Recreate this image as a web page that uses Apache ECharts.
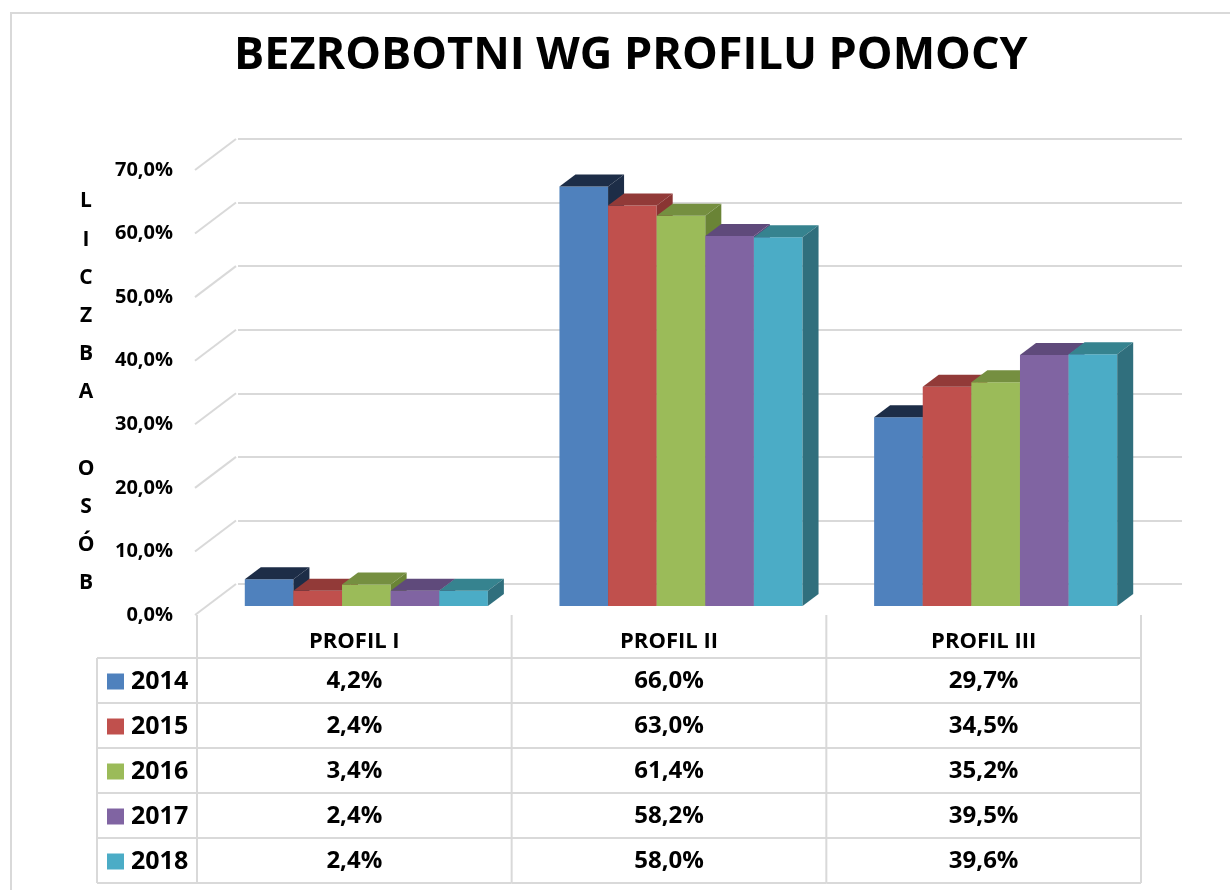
<!DOCTYPE html>
<html>
<head>
<meta charset="utf-8">
<script src="https://cdn.jsdelivr.net/npm/echarts@6/dist/echarts.min.js"></script>
<style>
  html, body { margin: 0; padding: 0; background: #fff; }
  #chart { width: 1230px; height: 890px; }
</style>
</head>
<body>
<div id="chart"></div>
<script>
// dane
const categories = ['PROFIL I', 'PROFIL II', 'PROFIL III'];
const years = ['2014', '2015', '2016', '2017', '2018'];
const values2014 = [4.2, 66.0, 29.7];
const values2015 = [2.4, 63.0, 34.5];
const values2016 = [3.4, 61.4, 35.2];
const values2017 = [2.4, 58.2, 39.5];
const values2018 = [2.4, 58.0, 39.6];
const yearValues = [values2014, values2015, values2016, values2017, values2018];
const yTicks = [0, 10, 20, 30, 40, 50, 60, 70];

// kolory: przod, gora, bok
const frontColors = ['#4F81BD', '#C0504D', '#9BBB59', '#8064A2', '#4BACC6'];
const topColors = ['#1D2D47', '#923A38', '#758F40', '#5F4A7B', '#36838F'];
const sideColors = ['#1D2D47', '#8A3533', '#6A8436', '#594577', '#306F7D'];

const FONT = 'Open Sans';
const LINE = '#D9D9D9';
const DEPTH_X = 41, DEPTH_Y = -31;   // sciana tylna
const BAR_OFF_X = 12, BAR_OFF_Y = -9; // przod slupkow
const BAR_DX = 16, BAR_DY = -12;      // glebokosc slupka

const fmt = v => v.toFixed(1).replace('.', ',') + '%';

function renderBar(s, params, api) {
  const i = api.value(0);
  const v = api.value(1);
  const base = api.coord([i, 0]);
  const tip = api.coord([i, v]);
  const catW = api.size([1, 0])[0];
  const bw = catW * 0.1545;
  const x0 = base[0] - 2.5 * bw + s * bw + BAR_OFF_X;
  const yb = base[1] + BAR_OFF_Y;
  const yt = tip[1] + BAR_OFF_Y;
  return {
    type: 'group',
    children: [
      { type: 'rect', shape: { x: x0, y: yt, width: bw, height: yb - yt },
        style: { fill: frontColors[s] } },
      { type: 'polygon', shape: { points: [[x0, yt], [x0 + bw, yt], [x0 + bw + BAR_DX, yt + BAR_DY], [x0 + BAR_DX, yt + BAR_DY]] },
        style: { fill: topColors[s] } },
      { type: 'polygon', shape: { points: [[x0 + bw, yt], [x0 + bw + BAR_DX, yt + BAR_DY], [x0 + bw + BAR_DX, yb + BAR_DY], [x0 + bw, yb]] },
        style: { fill: sideColors[s] } }
    ]
  };
}

function renderStub(params, api) {
  const p = api.coord([0, api.value(1)]);
  const x = params.coordSys.x;
  return {
    type: 'line',
    shape: { x1: x - 2, y1: p[1], x2: x - 2 + DEPTH_X, y2: p[1] + DEPTH_Y },
    style: { stroke: LINE, lineWidth: 2 }
  };
}

function renderTable(params, api) {
  const i = api.value(0);
  const p = api.coord([i, 0]);
  const w = api.size([1, 0])[0];
  const left = p[0] - w / 2, right = p[0] + w / 2;
  const top = p[1];
  const headH = 43, rowH = 45;
  const bottom = top + headH + rowH * years.length;
  const line = (x1, y1, x2, y2) => ({ type: 'line', shape: { x1, y1, x2, y2 }, style: { stroke: LINE, lineWidth: 2 } });
  const children = [];
  children.push(line(left, top, left, bottom));
  if (i === categories.length - 1) children.push(line(right, top, right, bottom));
  children.push({ type: 'text', style: { text: categories[i], x: p[0], y: top + headH / 2 + 5,
    align: 'center', verticalAlign: 'middle', font: 'bold 22px "' + FONT + '"', fill: '#000' } });
  for (let r = 0; r < years.length; r++) {
    const y = top + headH + r * rowH;
    children.push(line(left, y, right, y));
    children.push({ type: 'text', style: { text: fmt(yearValues[r][i]), x: p[0], y: y + rowH / 2 + 1,
      align: 'center', verticalAlign: 'middle', font: 'bold 24px "' + FONT + '"', fill: '#000' } });
  }
  children.push(line(left, bottom, right, bottom));
  if (i === 0) {
    const lx = left - 100;
    children.push(line(lx, top + headH, lx, bottom));
    for (let r = 0; r < years.length; r++) {
      const y = top + headH + r * rowH;
      children.push(line(lx, y, left, y));
      children.push({ type: 'rect', shape: { x: lx + 10, y: y + rowH / 2 - 7, width: 17, height: 16 },
        style: { fill: frontColors[r] } });
      children.push({ type: 'text', style: { text: years[r], x: lx + 34, y: y + rowH / 2 + 1,
        align: 'left', verticalAlign: 'middle', font: 'bold 25px "' + FONT + '"', fill: '#000' } });
    }
    children.push(line(lx, bottom, left, bottom));
  }
  return { type: 'group', children };
}

const chart = echarts.init(document.getElementById('chart'));
chart.setOption({
  backgroundColor: '#fff',
  animation: false,
  title: {
    text: 'BEZROBOTNI WG PROFILU POMOCY',
    left: 229,
    top: 29,
    textStyle: { fontFamily: FONT, fontSize: 45, fontWeight: 'bold', color: '#000' }
  },
  graphic: [{
    type: 'rect', shape: { x: 11, y: 13, width: 1400, height: 1000 },
    style: { fill: 'none', stroke: LINE, lineWidth: 2 }, silent: true
  }],
  grid: [
    { left: 197, right: 89, top: 170, bottom: 275 },
    { left: 197 + DEPTH_X, right: 89 - DEPTH_X, top: 170 + DEPTH_Y, bottom: 275 - DEPTH_Y }
  ],
  xAxis: [
    { type: 'category', gridIndex: 0, data: categories, show: false },
    { type: 'category', gridIndex: 1, data: categories, show: false }
  ],
  yAxis: [
    {
      type: 'value', gridIndex: 0, min: 0, max: 70, interval: 10,
      axisLine: { show: false }, axisTick: { show: false }, splitLine: { show: false },
      axisLabel: { formatter: fmt, margin: 24, color: '#000', fontFamily: FONT, fontSize: 20, fontWeight: 'bold',
        padding: [8, 0, 0, 0] },
      name: 'L\nI\nC\nZ\nB\nA\n\nO\nS\nÓ\nB',
      nameLocation: 'middle', nameRotate: 0, nameGap: 111,
      nameTextStyle: { align: 'center', verticalAlign: 'middle', lineHeight: 38.2, padding: [18, 0, 0, 0],
        color: '#000', fontFamily: FONT, fontSize: 21, fontWeight: 'bold' }
    },
    {
      type: 'value', gridIndex: 1, min: 0, max: 70, interval: 10,
      axisLine: { show: false }, axisTick: { show: false }, axisLabel: { show: false },
      splitLine: { show: true, lineStyle: { color: LINE, width: 2 } }
    }
  ],
  series: [
    {
      type: 'custom', name: 'stubs', xAxisIndex: 0, yAxisIndex: 0,
      data: yTicks.map(v => [0, v]), renderItem: renderStub, silent: true, z: 1
    },
    ...years.map((y, s) => ({
      type: 'custom', name: y, xAxisIndex: 0, yAxisIndex: 0,
      data: yearValues[s].map((v, i) => [i, v]),
      renderItem: (params, api) => renderBar(s, params, api), z: 2
    })),
    {
      type: 'custom', name: 'table', xAxisIndex: 0, yAxisIndex: 0,
      data: categories.map((c, i) => [i, 0]), renderItem: renderTable, silent: true, z: 3
    }
  ]
});
</script>
</body>
</html>
